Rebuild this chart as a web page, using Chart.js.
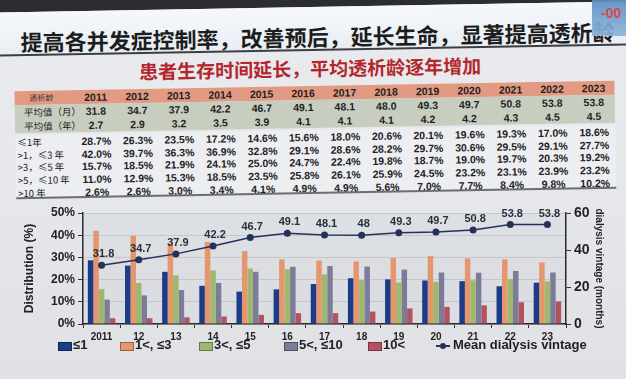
<!DOCTYPE html>
<html><head><meta charset="utf-8">
<script src="https://cdn.jsdelivr.net/npm/chart.js@4.4.0/dist/chart.umd.min.js"></script>
<style>
html,body{margin:0;padding:0;}
body{width:626px;height:379px;overflow:hidden;position:relative;background:linear-gradient(180deg,#e9ebee 0%,#e4e6ea 60%,#dfe1e5 100%);font-family:"Liberation Sans",Arial,"Noto Sans CJK SC",sans-serif;}
#top{position:absolute;left:0;top:0;width:626px;height:379px;transform:rotate(-1deg);transform-origin:313px 120px;}
.abs{position:absolute;white-space:nowrap;}
#darkbar{left:-30px;top:-30px;width:690px;height:37px;background:#2b2d32;}
#band{left:-30px;top:7px;width:690px;height:42px;background:linear-gradient(180deg,#f6f8fb,#e9eef3);border-bottom:2px solid #3b3e45;}
#title{left:22px;top:23px;font-family:"Noto Sans CJK SC";font-weight:bold;font-size:22px;line-height:27px;color:#1c1d20;}
#subtitle{left:0;width:622px;text-align:center;top:56px;font-family:"Noto Sans CJK SC";font-weight:bold;font-size:19px;line-height:24px;color:#b3262c;}
#hdr{left:15px;top:86px;width:600px;height:14px;background:#e39a82;}
#grn{left:15px;top:100px;width:600px;height:28px;background:#c7cec0;}
#pct{left:15px;top:130px;width:600px;height:62px;background:#eceef1;}
#bline{left:15px;top:192px;width:600px;height:2px;background:#6b6e74;}
.cell{position:absolute;width:44px;text-align:center;font-weight:bold;font-size:10.5px;color:#222;line-height:12px;}
.rl{position:absolute;font-size:9.5px;color:#222;line-height:12px;font-family:"Noto Sans CJK SC";}
#corner{position:absolute;left:592px;top:0;width:34px;height:36px;background:linear-gradient(180deg,#5b8fc3,#8fb6d9);opacity:0.92;}
#corner span{position:absolute;left:9px;top:5px;font-weight:bold;font-size:14px;color:#d93a3a;}
#c{position:absolute;left:0;top:0;}
#legend{position:absolute;left:0;top:0;width:626px;height:379px;pointer-events:none;}
.lg{position:absolute;top:338px;font-weight:bold;font-size:13px;line-height:14px;color:#1e1e22;white-space:nowrap;}
.lgbox{position:absolute;width:12px;height:7px;top:342px;border:1px solid rgba(0,0,0,0.35);}
</style></head>
<body>
<div id="top">
  <div id="darkbar" class="abs"></div>
  <div id="band" class="abs"></div>
  <div id="title" class="abs">提高各并发症控制率，改善预后，延长生命，显著提高透析龄</div>
  <div id="subtitle" class="abs">患者生存时间延长，平均透析龄逐年增加</div>
  <div id="hdr" class="abs"></div>
  <div id="grn" class="abs"></div>
  <div id="pct" class="abs"></div>
  <div id="bline" class="abs"></div>
  <div id="tbl"></div>
</div>
<div id="corner"><span>-00</span></div>
<canvas id="c" width="626" height="379"></canvas>
<div id="legend"></div>
<script>
// ---- data ----
const years = ['2011','2012','2013','2014','2015','2016','2017','2018','2019','2020','2021','2022','2023'];
const xLabels = ['2011','12','13','14','15','16','17','18','19','20','21','22','23'];
const meanMonths = [31.8,34.7,37.9,42.2,46.7,49.1,48.1,48.0,49.3,49.7,50.8,53.8,53.8];
const meanYears  = [2.7,2.9,3.2,3.5,3.9,4.1,4.1,4.1,4.2,4.2,4.3,4.5,4.5];
const distLe1    = [28.7,26.3,23.5,17.2,14.6,15.6,18.0,20.6,20.1,19.6,19.3,17.0,18.6];
const dist1to3   = [42.0,39.7,36.3,36.9,32.8,29.1,28.6,28.2,29.7,30.6,29.5,29.1,27.7];
const dist3to5   = [15.7,18.5,21.9,24.1,25.0,24.7,22.4,19.8,18.7,19.0,19.7,20.3,19.2];
const dist5to10  = [11.0,12.9,15.3,18.5,23.5,25.8,26.1,25.9,24.5,23.2,23.1,23.9,23.2];
const distGt10   = [2.6,2.6,3.0,3.4,4.1,4.9,4.9,5.6,7.0,7.7,8.4,9.8,10.2];
const seriesNames = ['≤1','1<, ≤3','3<, ≤5','5<, ≤10','10<'];
const lineName = 'Mean dialysis vintage';
const tableHeaderLabel = '透析龄';
const meanRowLabels = ['平均值（月）','平均值（年）'];
const distRowLabels = ['≤1年','>1，≤3 年','>3，≤5 年','>5，≤10 年','>10 年'];
const yLeftTitle = 'Distribution (%)';
const yRightTitle = 'dialysis vintage (months)';

// ---- styles ----
const barColors = ['#1d3c88','#e5966c','#9db86f','#7c7b99','#b5525f'];
const lineColor = '#243259';
const FONT = '"Liberation Sans", Arial, sans-serif';
const distSeries = [distLe1, dist1to3, dist3to5, dist5to10, distGt10];

// ---- table ----
const tbl = document.getElementById('tbl');
const colX = i => 96 + i * 41.5;
function addCell(txt, x, y, cls, extra){
  const d = document.createElement('div');
  d.className = cls; d.textContent = txt;
  if (cls === 'cell') { d.style.left = (x - 22) + 'px'; } else { d.style.left = x + 'px'; }
  d.style.top = (y - 6) + 'px';
  if (extra) Object.assign(d.style, extra);
  tbl.appendChild(d);
}
addCell(tableHeaderLabel, 30, 93, 'rl', {fontSize:'8px', color:'#333'});
years.forEach((y,i)=>addCell(y, colX(i), 93, 'cell'));
addCell(meanRowLabels[0], 24, 107, 'rl');
addCell(meanRowLabels[1], 24, 121, 'rl');
meanMonths.forEach((v,i)=>addCell(v.toFixed(1), colX(i), 107, 'cell'));
meanYears.forEach((v,i)=>addCell(v.toFixed(1), colX(i), 121, 'cell'));
const rowY = [137, 149.5, 162, 175, 188];
distSeries.forEach((arr,r)=>{
  addCell(distRowLabels[r], 17, rowY[r], 'rl', {fontSize:'9.5px'});
  arr.forEach((v,i)=>addCell(v.toFixed(1)+'%', colX(i), rowY[r], 'cell'));
});

// ---- legend (html) ----
const lg = document.getElementById('legend');
const lgX = [58, 120, 199, 284, 368];
seriesNames.forEach((n,i)=>{
  const b = document.createElement('div'); b.className='lgbox';
  b.style.left = lgX[i]+'px'; b.style.background = barColors[i]; lg.appendChild(b);
  const t = document.createElement('div'); t.className='lg';
  t.style.left = (lgX[i]+15)+'px'; t.textContent = n; lg.appendChild(t);
});
(function(){
  const ln = document.createElement('div');
  Object.assign(ln.style,{position:'absolute',left:'436px',top:'345px',width:'14px',height:'1.5px',background:lineColor});
  lg.appendChild(ln);
  const dot = document.createElement('div');
  Object.assign(dot.style,{position:'absolute',left:'440px',top:'342.5px',width:'6px',height:'6px',borderRadius:'50%',background:lineColor});
  lg.appendChild(dot);
  const t = document.createElement('div'); t.className='lg';
  t.style.left='453px'; t.textContent = lineName; lg.appendChild(t);
})();

// ---- chart ----
const labelPlugin = {
  id:'pointLabels',
  afterDatasetsDraw(chart){
    const ctx = chart.ctx;
    const meta = chart.getDatasetMeta(0);
    ctx.save();
    ctx.font = 'bold 11px ' + FONT;
    ctx.fillStyle = '#2a2e38';
    ctx.textAlign = 'center';
    ctx.textBaseline = 'middle';
    meta.data.forEach((pt,i)=>{
      ctx.fillText(String(meanMonths[i]), pt.x + 2, pt.y - 11);
    });
    ctx.restore();
  }
};
const bgPlugin = {
  id:'plotBg',
  beforeDraw(chart){
    const {ctx, chartArea:a} = chart;
    ctx.save();
    ctx.fillStyle = 'rgba(205,208,214,0.35)';
    ctx.fillRect(a.left, a.top, a.right - a.left, a.bottom - a.top);
    ctx.restore();
  }
};

const datasets = [{
  type:'line', label: lineName, data: meanMonths, yAxisID:'y2',
  borderColor: lineColor, backgroundColor: lineColor, borderWidth: 1.5,
  pointRadius: 3.5, pointHoverRadius: 3.5, pointBackgroundColor: lineColor,
  pointBorderWidth: 0, tension: 0, order: 0
}];
distSeries.forEach((arr,i)=>datasets.push({
  type:'bar', label: seriesNames[i], data: arr, yAxisID:'y',
  backgroundColor: barColors[i], borderWidth: 0,
  categoryPercentage: 0.74, barPercentage: 1.0, order: 1
}));

new Chart(document.getElementById('c'), {
  data: { labels: xLabels, datasets },
  options: {
    responsive: false, animation: false, devicePixelRatio: 1,
    layout: { padding: { left: 22, right: 21, top: 213, bottom: 35 } },
    plugins: { legend: { display: false }, tooltip: { enabled: false } },
    scales: {
      x: {
        offset: true,
        grid: { offset: true, drawOnChartArea: false, tickLength: 4, color: '#333', lineWidth: 1 },
        border: { color: '#2a2a2a', width: 1.5 },
        ticks: { font: { family: FONT, size: 10, weight: 'bold' }, color: '#222', padding: 3, maxRotation: 0, autoSkip: false },
        afterFit(s){ s.height = 20; }
      },
      y: {
        position: 'left', min: 0, max: 50,
        ticks: { stepSize: 10, callback: v => v + '%', font: { family: FONT, size: 12, weight: 'bold' }, color: '#222', padding: 3 },
        grid: { color: '#c3c6cb', tickLength: 5, tickColor: '#333', lineWidth: 1 },
        border: { color: '#2a2a2a', width: 1.5 },
        title: { display: true, text: yLeftTitle, font: { family: FONT, size: 12, weight: 'bold' }, color: '#222', padding: 0 },
        afterFit(s){ s.width = 61; }
      },
      y2: {
        position: 'right', min: 0, max: 60,
        ticks: { stepSize: 10, font: { family: FONT, size: 14, weight: 'bold' }, color: '#222', padding: 3 },
        grid: { drawOnChartArea: false, tickLength: 5, color: '#333', lineWidth: 1 },
        border: { color: '#2a2a2a', width: 1.5 },
        title: { display: true, text: yRightTitle, font: { family: FONT, size: 10, weight: 'bold' }, color: '#222', padding: 0 },
        afterFit(s){ s.width = 39; }
      }
    }
  },
  plugins: [bgPlugin, labelPlugin]
});
</script>
</body></html>
